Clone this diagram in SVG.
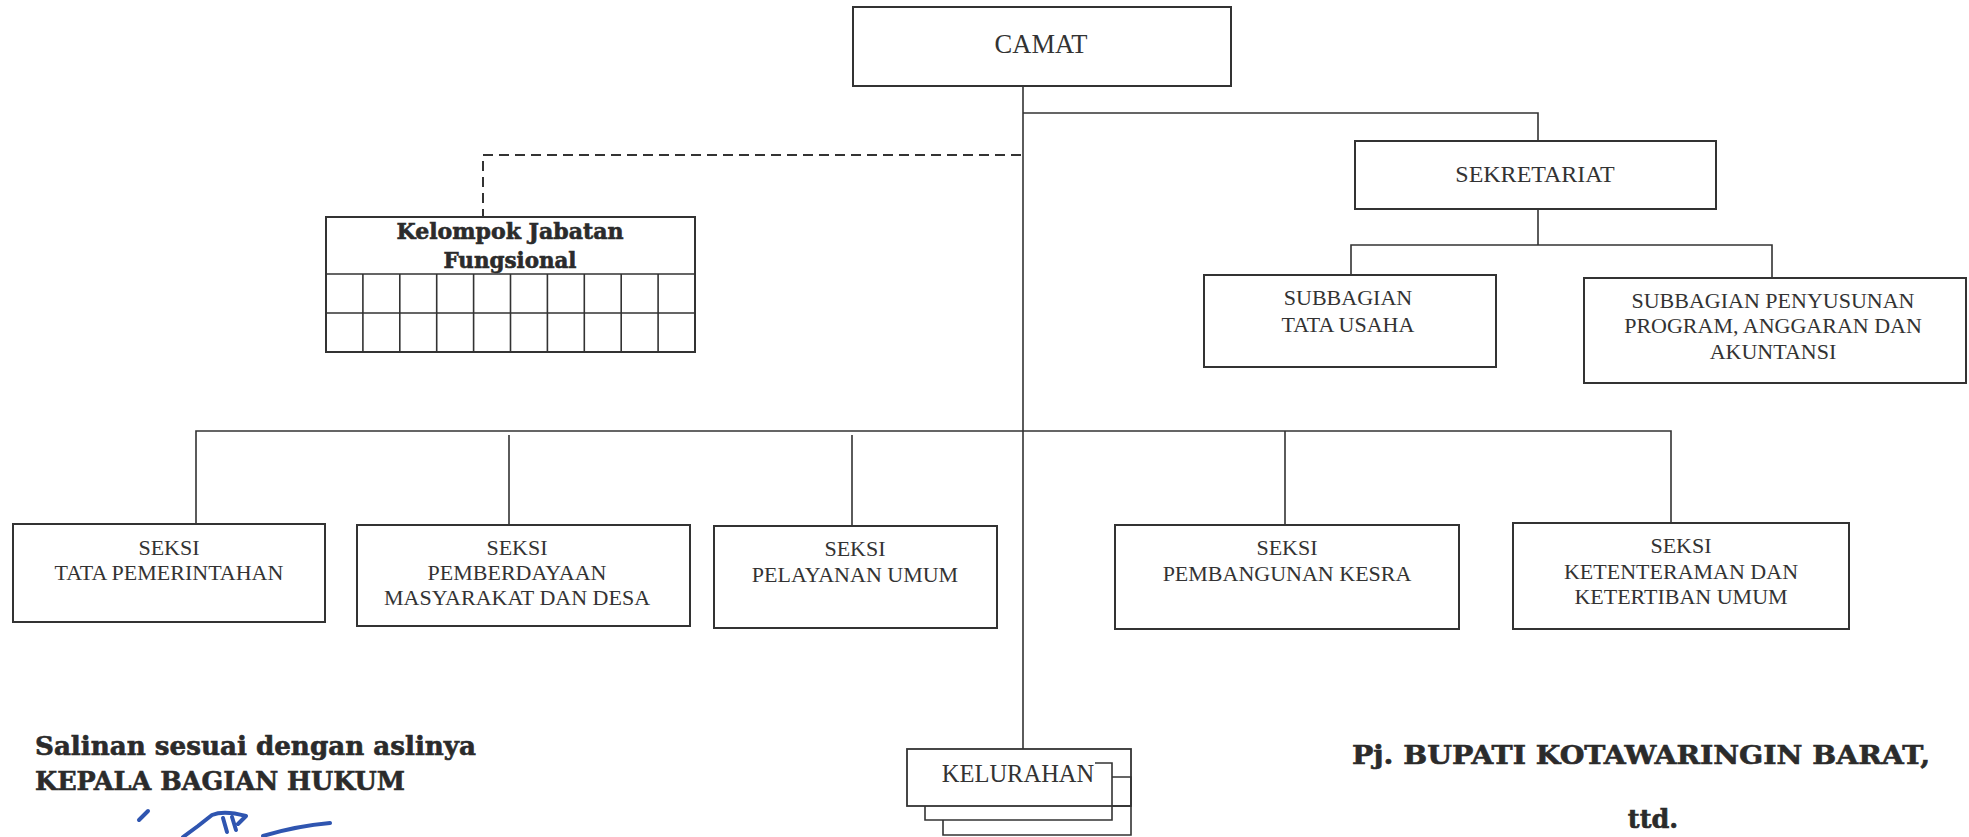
<svg xmlns="http://www.w3.org/2000/svg" width="1969" height="837" viewBox="0 0 1969 837">
<style>
.box{fill:#fff;stroke:#333;stroke-width:2}
.ln{fill:none;stroke:#333;stroke-width:1.6}
.dash{fill:none;stroke:#333;stroke-width:2;stroke-dasharray:10 6}
.t{font-family:"Liberation Serif","Times New Roman",serif;font-size:22px;fill:#333;text-anchor:middle}
.b{font-family:"DejaVu Serif","Liberation Serif",serif;font-weight:bold;fill:#2b2b2b;stroke:#2b2b2b;stroke-width:0.6}
.sig{fill:none;stroke:#2f55b0;stroke-width:4;stroke-linecap:round;stroke-linejoin:round}
</style>
<rect width="1969" height="837" fill="#fff"/>
<g id="connectors">
<path class="ln" d="M1023,86 V749"/>
<path class="ln" d="M1023,113 H1538 V141"/>
<path class="ln" d="M1538,209 V245"/>
<path class="ln" d="M1351,275 V245 H1772 V278"/>
<path class="dash" d="M1021,155 H483 V217"/>
<path class="ln" d="M196,524 V431 H1671 V523"/>
<path class="ln" d="M509,435 V525"/>
<path class="ln" d="M852,435 V526"/>
<path class="ln" d="M1285,431 V525"/>
</g>
<g id="camat">
<rect class="box" x="853" y="7" width="378" height="79"/>
<text class="t" x="1041" y="53" style="font-size:26.5px">CAMAT</text>
</g>
<g id="sekretariat">
<rect class="box" x="1355" y="141" width="361" height="68"/>
<text class="t" x="1535" y="182" style="font-size:24px">SEKRETARIAT</text>
</g>
<g id="subbagian-tu">
<rect class="box" x="1204" y="275" width="292" height="92"/>
<text class="t" x="1348" y="305">SUBBAGIAN</text>
<text class="t" x="1348" y="332">TATA USAHA</text>
</g>
<g id="subbagian-pa">
<rect class="box" x="1584" y="278" width="382" height="105"/>
<text class="t" x="1773" y="308">SUBBAGIAN PENYUSUNAN</text>
<text class="t" x="1773" y="333">PROGRAM, ANGGARAN DAN</text>
<text class="t" x="1773" y="359">AKUNTANSI</text>
</g>
<g id="jabatan-fungsional">
<rect class="box" x="326" y="217" width="369" height="135"/>
<text class="b" x="510" y="239" text-anchor="middle" font-size="21.5" textLength="227" lengthAdjust="spacingAndGlyphs">Kelompok Jabatan</text>
<text class="b" x="510" y="268" text-anchor="middle" font-size="21.5" textLength="133" lengthAdjust="spacingAndGlyphs">Fungsional</text>
<path class="ln" d="M326,274 H695 M326,313 H695 M362.9,274 V352 M399.8,274 V352 M436.7,274 V352 M473.6,274 V352 M510.5,274 V352 M547.4,274 V352 M584.3,274 V352 M621.2,274 V352 M658.1,274 V352"/>
</g>
<g id="seksi-tapem">
<rect class="box" x="13" y="524" width="312" height="98"/>
<text class="t" x="169" y="555">SEKSI</text>
<text class="t" x="169" y="580">TATA PEMERINTAHAN</text>
</g>
<g id="seksi-pmd">
<rect class="box" x="357" y="525" width="333" height="101"/>
<text class="t" x="517" y="555">SEKSI</text>
<text class="t" x="517" y="580">PEMBERDAYAAN</text>
<text class="t" x="517" y="605">MASYARAKAT DAN DESA</text>
</g>
<g id="seksi-pu">
<rect class="box" x="714" y="526" width="283" height="102"/>
<text class="t" x="855" y="556">SEKSI</text>
<text class="t" x="855" y="582">PELAYANAN UMUM</text>
</g>
<g id="seksi-kesra">
<rect class="box" x="1115" y="525" width="344" height="104"/>
<text class="t" x="1287" y="555">SEKSI</text>
<text class="t" x="1287" y="581">PEMBANGUNAN KESRA</text>
</g>
<g id="seksi-trantib">
<rect class="box" x="1513" y="523" width="336" height="106"/>
<text class="t" x="1681" y="553">SEKSI</text>
<text class="t" x="1681" y="579">KETENTERAMAN DAN</text>
<text class="t" x="1681" y="604">KETERTIBAN UMUM</text>
</g>
<g id="kelurahan">
<path class="ln" d="M943,820 V835 H1131 V777 H1112"/>
<path class="ln" d="M925,806 V820 H1112 V763 H1095"/>
<path class="ln" d="M1112,806 H1131"/>
<rect fill="none" stroke="#333" stroke-width="1.8" x="907" y="749" width="224" height="57"/>
<text class="t" x="1018" y="782" style="font-size:24.5px">KELURAHAN</text>
</g>
<g id="pengesahan-kiri">
<text class="b" x="35" y="755" font-size="25.5" textLength="441" lengthAdjust="spacingAndGlyphs">Salinan sesuai dengan aslinya</text>
<text class="b" x="35" y="790" font-size="25.5" textLength="370" lengthAdjust="spacingAndGlyphs">KEPALA BAGIAN HUKUM</text>
<path class="sig" d="M139,820 L148,811"/>
<path class="sig" d="M183,837 L198,826 L212,815 Q224,810 246,816 L238,824"/>
<path class="sig" d="M223,818 L227,832 M232,817 L236,830"/>
<path class="sig" d="M263,836 Q296,826 330,823"/>
</g>
<g id="pengesahan-kanan">
<text class="b" x="1352" y="764" font-size="25.5" textLength="578" lengthAdjust="spacingAndGlyphs">Pj. BUPATI KOTAWARINGIN BARAT,</text>
<text class="b" x="1653" y="828" font-size="25.5" text-anchor="middle">ttd.</text>
</g>
</svg>
